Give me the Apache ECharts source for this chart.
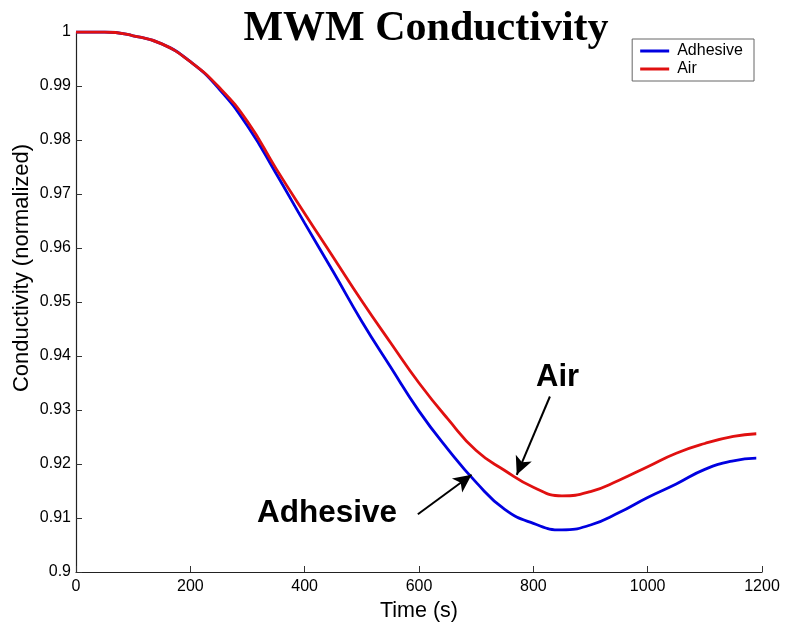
<!DOCTYPE html>
<html>
<head>
<meta charset="utf-8">
<script src="https://cdn.jsdelivr.net/npm/echarts@6/dist/echarts.min.js"></script>
<style>html,body{margin:0;padding:0;background:#fff}#c{width:798px;height:627px}</style>
</head>
<body>
<div id="c"></div>
<script>
var timeS = [0, 50, 100, 150, 200, 250, 300, 350, 400, 450, 500, 550, 600, 650, 700, 750, 800, 850, 900, 950, 1000, 1050, 1100, 1150, 1190];
var adhesive = [1.0, 1.0, 0.9993, 0.9978, 0.9945, 0.9895, 0.9826, 0.9738, 0.9646, 0.9556, 0.9464, 0.9380, 0.9298, 0.9228, 0.9166, 0.9116, 0.9090, 0.9078, 0.9087, 0.9110, 0.9138, 0.9163, 0.9190, 0.9206, 0.9211];
var air = [1.0, 1.0, 0.9993, 0.9978, 0.9945, 0.9898, 0.9834, 0.9747, 0.9664, 0.9583, 0.9502, 0.9425, 0.9350, 0.9284, 0.9225, 0.9188, 0.9157, 0.9141, 0.9149, 0.9170, 0.9195, 0.9220, 0.9238, 0.9251, 0.9256];
var xTicks = {min: 0, max: 1200, interval: 200};
var yTicks = {min: 0.9, max: 1.0, interval: 0.01};
// annotation arrows in data coordinates: [start, end]
var airArrow = [[829, 0.9325], [771, 0.9180]];
var adhArrow = [[598, 0.9107], [692, 0.9180]];

function pairs(xs, ys){ return xs.map(function(x,i){return [x, ys[i]];}); }

var chart = echarts.init(document.getElementById('c'), null, {renderer:'canvas'});
var arrowLine = function(a){
  return {
    silent: true, symbol: ['none','arrow'], symbolSize: [13, 18],
    lineStyle: {color: '#000', width: 2, type: 'solid'},
    label: {show: false},
    data: [[{coord: a[0]}, {coord: a[1]}]]
  };
};
chart.setOption({
  animation: false,
  backgroundColor: '#fff',
  title: {
    text: 'MWM Conductivity', left: 421, top: 3, textAlign: 'center',
    textStyle: {fontFamily: 'Liberation Serif', fontWeight: 'bold', fontSize: 42, color: '#000'}
  },
  legend: {
    right: 44, top: 39, orient: 'vertical',
    icon: 'rect', itemWidth: 29, itemHeight: 3, itemGap: 2,
    padding: [4, 11, 4, 8],
    borderColor: '#666', borderWidth: 1, backgroundColor: '#fff',
    textStyle: {fontFamily: 'Liberation Sans', fontSize: 16, color: '#000', padding: [0,0,0,3]},
    data: ['Adhesive', 'Air']
  },
  grid: {left: 76, right: 36, top: 32, bottom: 55, outerBoundsMode: 'none', containLabel: false},
  xAxis: {
    type: 'value', min: xTicks.min, max: xTicks.max, interval: xTicks.interval,
    name: 'Time (s)', nameLocation: 'middle', nameGap: 27,
    nameTextStyle: {fontFamily: 'Liberation Sans', fontSize: 21.5, color: '#000'},
    axisLine: {lineStyle: {color: '#222', width: 1.2}},
    axisTick: {inside: true, length: 6, lineStyle: {color: '#333'}},
    axisLabel: {fontFamily: 'Liberation Sans', fontSize: 16, color: '#000', margin: 7,
      formatter: function(v){ return String(v); }},
    splitLine: {show: false}
  },
  yAxis: {
    type: 'value', min: yTicks.min, max: yTicks.max, interval: yTicks.interval,
    axisLine: {show: true, lineStyle: {color: '#222', width: 1.2}},
    axisTick: {show: true, inside: true, length: 6, lineStyle: {color: '#333'}},
    axisLabel: {fontFamily: 'Liberation Sans', fontSize: 16, color: '#000', margin: 5,
      formatter: function(v){ return String(+v.toFixed(2)); }},
    splitLine: {show: false}
  },
  series: [
    {name: 'Adhesive', type: 'line', smooth: true, showSymbol: false, symbol: 'none',
     data: pairs(timeS, adhesive), color: '#0000e0', lineStyle: {width: 2.8, color: '#0000e0'},
     markLine: arrowLine(adhArrow), z: 3},
    {name: 'Air', type: 'line', smooth: true, showSymbol: false, symbol: 'none',
     data: pairs(timeS, air), color: '#e01010', lineStyle: {width: 2.8, color: '#e01010'},
     markLine: arrowLine(airArrow), z: 4}
  ],
  graphic: [
    {type: 'text', x: 22, y: 268, rotation: Math.PI / 2,
     style: {text: 'Conductivity (normalized)', fontFamily: 'Liberation Sans', fontSize: 22, fill: '#000', align: 'center', verticalAlign: 'middle'}},
    {type: 'text', left: 536, top: 362, style: {text: 'Air', fontFamily: 'Liberation Sans', fontWeight: 'bold', fontSize: 31, fill: '#000'}},
    {type: 'text', left: 257, top: 497, style: {text: 'Adhesive', fontFamily: 'Liberation Sans', fontWeight: 'bold', fontSize: 31.5, fill: '#000'}}
  ]
});
</script>
</body>
</html>
